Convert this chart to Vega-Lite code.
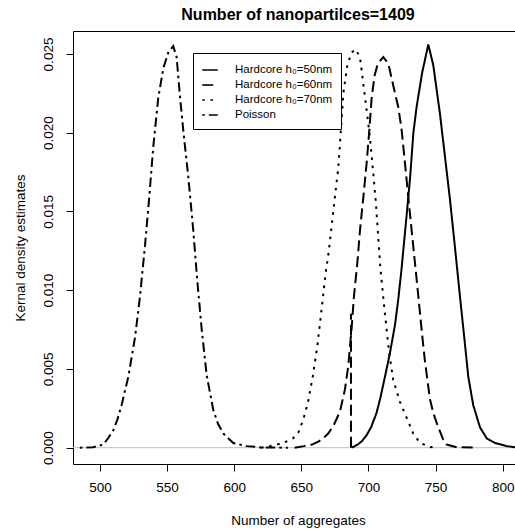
{
  "$schema": "https://vega.github.io/schema/vega-lite/v6.json",
  "autosize": "none",
  "width": 442,
  "height": 433,
  "padding": {"left": 73, "top": 31, "right": 0, "bottom": 65},
  "background": "white",
  "config": {
    "font": "Liberation Sans",
    "view": {"stroke": null},
    "axis": {"grid": false, "domainColor": "black", "tickColor": "black", "labelColor": "black", "titleColor": "black", "labelFont": "Liberation Sans", "titleFont": "Liberation Sans", "titleFontWeight": "normal", "labelFontSize": 13.5, "titleFontSize": 13.5, "tickSize": 7, "domainWidth": 1, "tickWidth": 1}
  },
  "title": {"text": "Number of nanopartilces=1409", "font": "Liberation Sans", "fontSize": 16, "fontWeight": "bold", "color": "black", "anchor": "middle", "frame": "group", "baseline": "alphabetic", "offset": 10, "dx": 4, "dy": 15},
  "datasets": {
    "curves": [
      {"series": "Hardcore h₀=50nm", "seg": "main", "x": 687.5, "y": 0},
      {"series": "Hardcore h₀=50nm", "seg": "main", "x": 692, "y": 0.0002},
      {"series": "Hardcore h₀=50nm", "seg": "main", "x": 695, "y": 0.0004},
      {"series": "Hardcore h₀=50nm", "seg": "main", "x": 698.7, "y": 0.0008},
      {"series": "Hardcore h₀=50nm", "seg": "main", "x": 702, "y": 0.0013},
      {"series": "Hardcore h₀=50nm", "seg": "main", "x": 706, "y": 0.0022},
      {"series": "Hardcore h₀=50nm", "seg": "main", "x": 709, "y": 0.0032},
      {"series": "Hardcore h₀=50nm", "seg": "main", "x": 712.3, "y": 0.0045},
      {"series": "Hardcore h₀=50nm", "seg": "main", "x": 716, "y": 0.006},
      {"series": "Hardcore h₀=50nm", "seg": "main", "x": 719.8, "y": 0.0078},
      {"series": "Hardcore h₀=50nm", "seg": "main", "x": 722.2, "y": 0.0094},
      {"series": "Hardcore h₀=50nm", "seg": "main", "x": 724.5, "y": 0.0112},
      {"series": "Hardcore h₀=50nm", "seg": "main", "x": 726.5, "y": 0.013},
      {"series": "Hardcore h₀=50nm", "seg": "main", "x": 728.5, "y": 0.0148},
      {"series": "Hardcore h₀=50nm", "seg": "main", "x": 731, "y": 0.0171},
      {"series": "Hardcore h₀=50nm", "seg": "main", "x": 733.5, "y": 0.02},
      {"series": "Hardcore h₀=50nm", "seg": "main", "x": 736, "y": 0.0217},
      {"series": "Hardcore h₀=50nm", "seg": "main", "x": 740, "y": 0.0238},
      {"series": "Hardcore h₀=50nm", "seg": "main", "x": 744.6, "y": 0.0256},
      {"series": "Hardcore h₀=50nm", "seg": "main", "x": 748.3, "y": 0.0243},
      {"series": "Hardcore h₀=50nm", "seg": "main", "x": 753.3, "y": 0.0212},
      {"series": "Hardcore h₀=50nm", "seg": "main", "x": 757, "y": 0.0185},
      {"series": "Hardcore h₀=50nm", "seg": "main", "x": 760.7, "y": 0.0158},
      {"series": "Hardcore h₀=50nm", "seg": "main", "x": 764.5, "y": 0.0127},
      {"series": "Hardcore h₀=50nm", "seg": "main", "x": 768.2, "y": 0.0096},
      {"series": "Hardcore h₀=50nm", "seg": "main", "x": 771.9, "y": 0.0066},
      {"series": "Hardcore h₀=50nm", "seg": "main", "x": 774.4, "y": 0.0045},
      {"series": "Hardcore h₀=50nm", "seg": "main", "x": 778.1, "y": 0.0027},
      {"series": "Hardcore h₀=50nm", "seg": "main", "x": 783.1, "y": 0.0013},
      {"series": "Hardcore h₀=50nm", "seg": "main", "x": 788.1, "y": 0.0006},
      {"series": "Hardcore h₀=50nm", "seg": "main", "x": 794.3, "y": 0.0003},
      {"series": "Hardcore h₀=50nm", "seg": "main", "x": 803, "y": 0.0001},
      {"series": "Hardcore h₀=50nm", "seg": "main", "x": 812, "y": 0},

      {"series": "Hardcore h₀=60nm", "seg": "main", "x": 645, "y": 0},
      {"series": "Hardcore h₀=60nm", "seg": "main", "x": 652, "y": 0.0001},
      {"series": "Hardcore h₀=60nm", "seg": "main", "x": 658, "y": 0.0002},
      {"series": "Hardcore h₀=60nm", "seg": "main", "x": 663, "y": 0.0004},
      {"series": "Hardcore h₀=60nm", "seg": "main", "x": 666.5, "y": 0.0006},
      {"series": "Hardcore h₀=60nm", "seg": "main", "x": 670, "y": 0.0009},
      {"series": "Hardcore h₀=60nm", "seg": "main", "x": 674, "y": 0.0014},
      {"series": "Hardcore h₀=60nm", "seg": "main", "x": 678.8, "y": 0.0023},
      {"series": "Hardcore h₀=60nm", "seg": "main", "x": 682.5, "y": 0.0037},
      {"series": "Hardcore h₀=60nm", "seg": "main", "x": 685, "y": 0.0052},
      {"series": "Hardcore h₀=60nm", "seg": "main", "x": 687.5, "y": 0.0076},
      {"series": "Hardcore h₀=60nm", "seg": "main", "x": 689.2, "y": 0.0096},
      {"series": "Hardcore h₀=60nm", "seg": "main", "x": 691.7, "y": 0.0117},
      {"series": "Hardcore h₀=60nm", "seg": "main", "x": 693.7, "y": 0.0138},
      {"series": "Hardcore h₀=60nm", "seg": "main", "x": 696.2, "y": 0.0159},
      {"series": "Hardcore h₀=60nm", "seg": "main", "x": 698.7, "y": 0.0181},
      {"series": "Hardcore h₀=60nm", "seg": "main", "x": 700.7, "y": 0.0202},
      {"series": "Hardcore h₀=60nm", "seg": "main", "x": 702.4, "y": 0.0222},
      {"series": "Hardcore h₀=60nm", "seg": "main", "x": 704.5, "y": 0.0236},
      {"series": "Hardcore h₀=60nm", "seg": "main", "x": 707, "y": 0.0244},
      {"series": "Hardcore h₀=60nm", "seg": "main", "x": 711.1, "y": 0.0248},
      {"series": "Hardcore h₀=60nm", "seg": "main", "x": 714.8, "y": 0.0244},
      {"series": "Hardcore h₀=60nm", "seg": "main", "x": 718.5, "y": 0.023},
      {"series": "Hardcore h₀=60nm", "seg": "main", "x": 722.3, "y": 0.0216},
      {"series": "Hardcore h₀=60nm", "seg": "main", "x": 724.7, "y": 0.0202},
      {"series": "Hardcore h₀=60nm", "seg": "main", "x": 727.2, "y": 0.0181},
      {"series": "Hardcore h₀=60nm", "seg": "main", "x": 729.7, "y": 0.0159},
      {"series": "Hardcore h₀=60nm", "seg": "main", "x": 732.2, "y": 0.0138},
      {"series": "Hardcore h₀=60nm", "seg": "main", "x": 734.7, "y": 0.0117},
      {"series": "Hardcore h₀=60nm", "seg": "main", "x": 737.2, "y": 0.0096},
      {"series": "Hardcore h₀=60nm", "seg": "main", "x": 739.6, "y": 0.0075},
      {"series": "Hardcore h₀=60nm", "seg": "main", "x": 742.1, "y": 0.0055},
      {"series": "Hardcore h₀=60nm", "seg": "main", "x": 745.8, "y": 0.0031},
      {"series": "Hardcore h₀=60nm", "seg": "main", "x": 748.3, "y": 0.0022},
      {"series": "Hardcore h₀=60nm", "seg": "main", "x": 752, "y": 0.0013},
      {"series": "Hardcore h₀=60nm", "seg": "main", "x": 755.8, "y": 0.0005},
      {"series": "Hardcore h₀=60nm", "seg": "main", "x": 758.3, "y": 0.0002},
      {"series": "Hardcore h₀=60nm", "seg": "main", "x": 765, "y": 0.00005},
      {"series": "Hardcore h₀=60nm", "seg": "main", "x": 780, "y": 0},
      {"series": "Hardcore h₀=60nm", "seg": "vline", "x": 687, "y": 0},
      {"series": "Hardcore h₀=60nm", "seg": "vline", "x": 687, "y": 0.0085},

      {"series": "Hardcore h₀=70nm", "seg": "main", "x": 620, "y": 0},
      {"series": "Hardcore h₀=70nm", "seg": "main", "x": 626.6, "y": 0.0001},
      {"series": "Hardcore h₀=70nm", "seg": "main", "x": 636.6, "y": 0.0003},
      {"series": "Hardcore h₀=70nm", "seg": "main", "x": 644, "y": 0.0006},
      {"series": "Hardcore h₀=70nm", "seg": "main", "x": 648, "y": 0.001},
      {"series": "Hardcore h₀=70nm", "seg": "main", "x": 651.5, "y": 0.0018},
      {"series": "Hardcore h₀=70nm", "seg": "main", "x": 655, "y": 0.0029},
      {"series": "Hardcore h₀=70nm", "seg": "main", "x": 658.5, "y": 0.0045},
      {"series": "Hardcore h₀=70nm", "seg": "main", "x": 662, "y": 0.0065},
      {"series": "Hardcore h₀=70nm", "seg": "main", "x": 665, "y": 0.0087},
      {"series": "Hardcore h₀=70nm", "seg": "main", "x": 668, "y": 0.011},
      {"series": "Hardcore h₀=70nm", "seg": "main", "x": 670.5, "y": 0.0125},
      {"series": "Hardcore h₀=70nm", "seg": "main", "x": 672.5, "y": 0.014},
      {"series": "Hardcore h₀=70nm", "seg": "main", "x": 675, "y": 0.0159},
      {"series": "Hardcore h₀=70nm", "seg": "main", "x": 677.6, "y": 0.0178},
      {"series": "Hardcore h₀=70nm", "seg": "main", "x": 679.5, "y": 0.0202},
      {"series": "Hardcore h₀=70nm", "seg": "main", "x": 681.3, "y": 0.0225},
      {"series": "Hardcore h₀=70nm", "seg": "main", "x": 684.3, "y": 0.0243},
      {"series": "Hardcore h₀=70nm", "seg": "main", "x": 687.5, "y": 0.0251},
      {"series": "Hardcore h₀=70nm", "seg": "main", "x": 690.5, "y": 0.0253},
      {"series": "Hardcore h₀=70nm", "seg": "main", "x": 693.7, "y": 0.0248},
      {"series": "Hardcore h₀=70nm", "seg": "main", "x": 696.2, "y": 0.0231},
      {"series": "Hardcore h₀=70nm", "seg": "main", "x": 698.7, "y": 0.0214},
      {"series": "Hardcore h₀=70nm", "seg": "main", "x": 701, "y": 0.0198},
      {"series": "Hardcore h₀=70nm", "seg": "main", "x": 703, "y": 0.018},
      {"series": "Hardcore h₀=70nm", "seg": "main", "x": 705.6, "y": 0.0155},
      {"series": "Hardcore h₀=70nm", "seg": "main", "x": 709, "y": 0.0113},
      {"series": "Hardcore h₀=70nm", "seg": "main", "x": 712.3, "y": 0.0085},
      {"series": "Hardcore h₀=70nm", "seg": "main", "x": 715.5, "y": 0.006},
      {"series": "Hardcore h₀=70nm", "seg": "main", "x": 718.5, "y": 0.0043},
      {"series": "Hardcore h₀=70nm", "seg": "main", "x": 723.5, "y": 0.0029},
      {"series": "Hardcore h₀=70nm", "seg": "main", "x": 728.5, "y": 0.0019},
      {"series": "Hardcore h₀=70nm", "seg": "main", "x": 733.4, "y": 0.0009},
      {"series": "Hardcore h₀=70nm", "seg": "main", "x": 738.4, "y": 0.0003},
      {"series": "Hardcore h₀=70nm", "seg": "main", "x": 746, "y": 0.00005},
      {"series": "Hardcore h₀=70nm", "seg": "main", "x": 752, "y": 0},

      {"series": "Poisson", "seg": "main", "x": 485, "y": 0},
      {"series": "Poisson", "seg": "main", "x": 495, "y": 0.00003},
      {"series": "Poisson", "seg": "main", "x": 502.5, "y": 0.0002},
      {"series": "Poisson", "seg": "main", "x": 506, "y": 0.0006},
      {"series": "Poisson", "seg": "main", "x": 509.9, "y": 0.0011},
      {"series": "Poisson", "seg": "main", "x": 513, "y": 0.0018},
      {"series": "Poisson", "seg": "main", "x": 516.1, "y": 0.0027},
      {"series": "Poisson", "seg": "main", "x": 521.1, "y": 0.0045},
      {"series": "Poisson", "seg": "main", "x": 526.1, "y": 0.007},
      {"series": "Poisson", "seg": "main", "x": 529.8, "y": 0.0096},
      {"series": "Poisson", "seg": "main", "x": 533.5, "y": 0.0128},
      {"series": "Poisson", "seg": "main", "x": 536.7, "y": 0.0159},
      {"series": "Poisson", "seg": "main", "x": 539.7, "y": 0.0191},
      {"series": "Poisson", "seg": "main", "x": 543.4, "y": 0.0222},
      {"series": "Poisson", "seg": "main", "x": 547.2, "y": 0.0241},
      {"series": "Poisson", "seg": "main", "x": 550.9, "y": 0.0251},
      {"series": "Poisson", "seg": "main", "x": 554.6, "y": 0.0255},
      {"series": "Poisson", "seg": "main", "x": 557.1, "y": 0.0248},
      {"series": "Poisson", "seg": "main", "x": 559.6, "y": 0.0223},
      {"series": "Poisson", "seg": "main", "x": 562.6, "y": 0.0197},
      {"series": "Poisson", "seg": "main", "x": 565.8, "y": 0.0172},
      {"series": "Poisson", "seg": "main", "x": 569.5, "y": 0.0138},
      {"series": "Poisson", "seg": "main", "x": 572.5, "y": 0.0106},
      {"series": "Poisson", "seg": "main", "x": 575.8, "y": 0.0075},
      {"series": "Poisson", "seg": "main", "x": 579.5, "y": 0.0046},
      {"series": "Poisson", "seg": "main", "x": 584.4, "y": 0.0024},
      {"series": "Poisson", "seg": "main", "x": 588, "y": 0.0015},
      {"series": "Poisson", "seg": "main", "x": 591.9, "y": 0.0009},
      {"series": "Poisson", "seg": "main", "x": 599.3, "y": 0.0003},
      {"series": "Poisson", "seg": "main", "x": 609.3, "y": 0.0001},
      {"series": "Poisson", "seg": "main", "x": 620, "y": 0.00002},
      {"series": "Poisson", "seg": "main", "x": 640, "y": 0}
    ]
  },
  "layer": [
    {
      "data": {"values": [{"h": 0}]},
      "mark": {"type": "rule", "color": "#bebebe", "strokeWidth": 1},
      "encoding": {
        "y": {"field": "h", "type": "quantitative", "scale": {"domain": [-0.001035, 0.02646], "nice": false, "zero": false}, "axis": {"title": "Kernal density estimates", "values": [0, 0.005, 0.01, 0.015, 0.02, 0.025], "format": ".3f", "labelAngle": -90, "labelAlign": "center", "labelBaseline": "alphabetic", "labelPadding": 14, "titleAngle": -90, "titleAlign": "center", "titleBaseline": "alphabetic", "titleX": -49, "titleY": 216.5}}
      }
    },
    {
      "data": {"name": "curves"},
      "mark": {"type": "line", "color": "black", "strokeWidth": 2, "clip": true},
      "encoding": {
        "x": {"field": "x", "type": "quantitative", "scale": {"domain": [479.9, 809.2], "nice": false, "zero": false}, "axis": {"orient": "bottom", "title": "Number of aggregates", "values": [500, 550, 600, 650, 700, 750, 800], "labelPadding": 9, "labelBaseline": "top", "titleBaseline": "alphabetic", "titleX": 225, "titleY": 60.5, "titleAlign": "center"}},
        "y": {"field": "y", "type": "quantitative"},
        "detail": {"field": "seg"},
        "strokeDash": {
          "field": "series", "type": "nominal",
          "scale": {"domain": ["Hardcore h₀=50nm", "Hardcore h₀=60nm", "Hardcore h₀=70nm", "Poisson"], "range": [[1, 0], [11, 5], [2.6, 5.6], [2.6, 4, 9.5, 4]]},
          "legend": {"title": null, "orient": "none", "legendX": 120, "legendY": 22, "symbolType": "stroke", "symbolSize": 240, "symbolStrokeColor": "black", "symbolStrokeWidth": 1.6, "labelFont": "Liberation Sans", "labelFontSize": 11.5, "labelColor": "black", "labelOffset": 16, "padding": 8, "strokeColor": "black", "fillColor": "white", "cornerRadius": 0, "rowPadding": 0}
        }
      }
    },
    {
      "data": {"name": "curves"},
      "mark": {"type": "line", "opacity": 0},
      "encoding": {
        "x": {"field": "x", "type": "quantitative", "axis": {"orient": "top", "title": null, "labels": false, "ticks": false, "domain": true}},
        "y": {"field": "y", "type": "quantitative"}
      }
    }
  ],
  "resolve": {"axis": {"x": "independent"}}
}
